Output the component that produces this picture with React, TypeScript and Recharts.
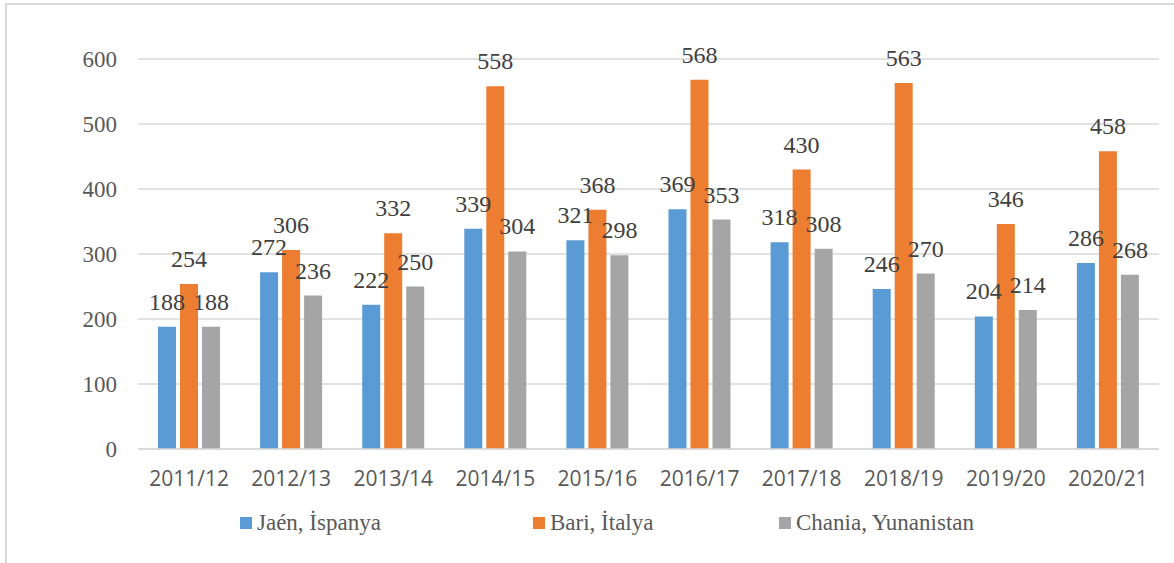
import React from "react";
import { BarChart, Bar, XAxis, YAxis, CartesianGrid, LabelList, Legend } from "recharts";

const categories = ["2011/12", "2012/13", "2013/14", "2014/15", "2015/16", "2016/17", "2017/18", "2018/19", "2019/20", "2020/21"];
const jaen = [188, 272, 222, 339, 321, 369, 318, 246, 204, 286];
const bari = [254, 306, 332, 558, 368, 568, 430, 563, 346, 458];
const chania = [188, 236, 250, 304, 298, 353, 308, 270, 214, 268];
const yTicks = [0, 100, 200, 300, 400, 500, 600];

const seriesNames = ["Jaén, İspanya", "Bari, İtalya", "Chania, Yunanistan"];
const seriesKeys = ["jaen", "bari", "chania"];
const seriesColors = ["#5B9BD5", "#ED7D31", "#A5A5A5"];
const legendLeft = [240, 533, 779];

const data = categories.map((c, i) => ({ cat: c, jaen: jaen[i], bari: bari[i], chania: chania[i] }));

const SERIF = "Liberation Serif";
const SANS = "Open Sans";

const LegendContent = () => (
  <div style={{ position: "relative", height: 28, width: 1174, fontFamily: SERIF }}>
    {seriesNames.map((n, i) => (
      <div
        key={n}
        style={{
          position: "absolute",
          left: legendLeft[i],
          top: 0,
          display: "flex",
          alignItems: "center",
          height: 28,
          whiteSpace: "nowrap",
        }}
      >
        <span style={{ display: "inline-block", width: 12, height: 12, background: seriesColors[i], marginRight: 5 }} />
        <span style={{ fontFamily: SERIF, fontSize: 23, color: "#595959" }}>{n}</span>
      </div>
    ))}
  </div>
);

const ValueLabel = (props: any) => {
  const { x, y, width, value } = props;
  return (
    <text
      x={Number(x) + Number(width) / 2}
      y={Number(y) - 17}
      textAnchor="middle"
      fontFamily={SERIF}
      fontSize={24}
      fill="#404040"
    >
      {value}
    </text>
  );
};

export default function App() {
  return (
    <div style={{ position: "absolute", left: 0, top: 0, width: 1174, height: 563, background: "#fff", overflow: "hidden" }}>
      <div style={{ position: "absolute", left: 5, top: 3, width: 1200, height: 600, borderLeft: "2px solid #d9d9d9", borderTop: "2px solid #d9d9d9" }} />
      <BarChart
        width={1174}
        height={563}
        data={data}
        margin={{ top: 59, right: 15, bottom: 84, left: 0 }}
        barCategoryGap={20}
        barGap={4}
        style={{ position: "absolute", left: 0, top: 0 }}
      >
        <CartesianGrid vertical={false} stroke="#d9d9d9" strokeWidth={1.5} />
        <XAxis
          dataKey="cat"
          height={30}
          axisLine={{ stroke: "#d9d9d9", strokeWidth: 1.5 }}
          tickLine={false}
          tickSize={0}
          tickMargin={22}
          tick={{ fontFamily: SANS, fontSize: 21, fill: "#595959" }}
          interval={0}
        />
        <YAxis
          width={138}
          domain={[0, 600]}
          ticks={yTicks}
          axisLine={false}
          tickLine={false}
          tickSize={0}
          tickMargin={21}
          tick={{ fontFamily: SERIF, fontSize: 23, fill: "#595959" }}
        />
        <Legend
          layout="horizontal"
          verticalAlign="middle"
          align="center"
          wrapperStyle={{ top: 509, left: 0, width: 1174 }}
          content={() => <LegendContent />}
        />
        {seriesKeys.map((k, i) => (
          <Bar key={k} dataKey={k} name={seriesNames[i]} fill={seriesColors[i]} isAnimationActive={false}>
            <LabelList dataKey={k} content={ValueLabel} />
          </Bar>
        ))}
      </BarChart>
    </div>
  );
}
